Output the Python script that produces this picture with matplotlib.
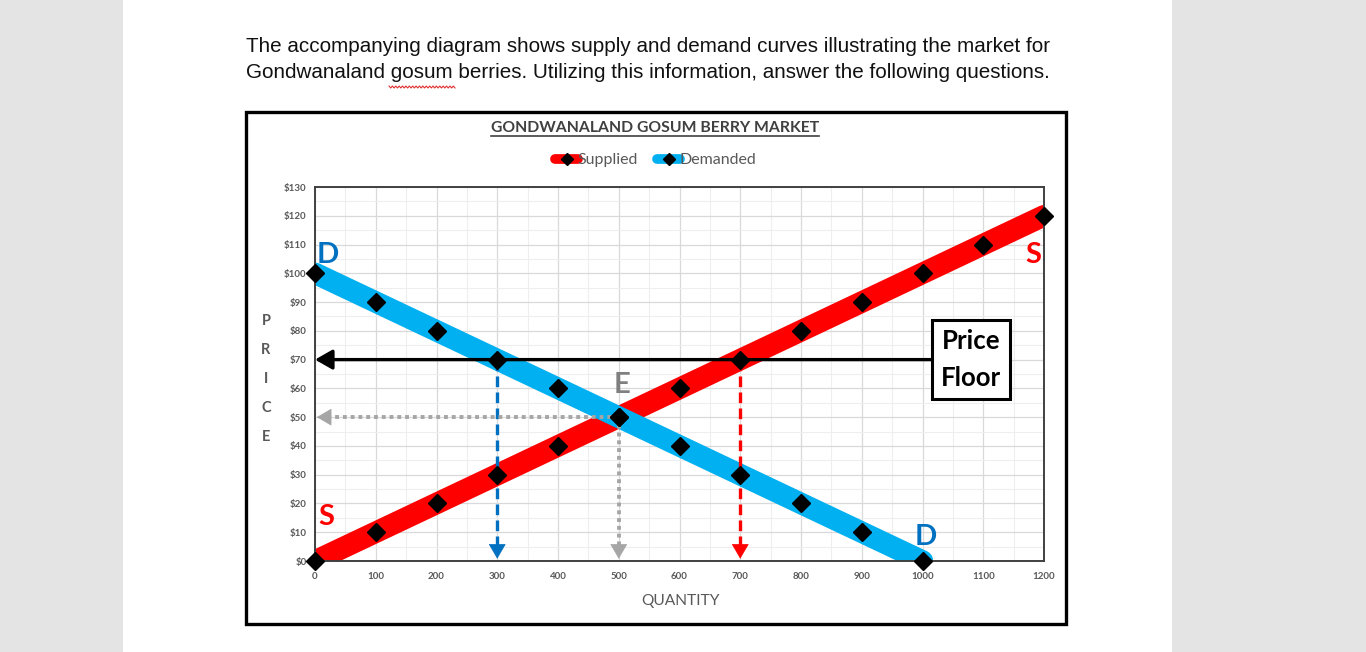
import numpy as np
import matplotlib
matplotlib.use("Agg")
import matplotlib.pyplot as plt
from matplotlib.lines import Line2D
from matplotlib.patches import Rectangle
from matplotlib.ticker import MultipleLocator, FuncFormatter

# ---------------- data ----------------
supply_qty = [0, 100, 200, 300, 400, 500, 600, 700, 800, 900, 1000, 1100, 1200]
supply_price = [0, 10, 20, 30, 40, 50, 60, 70, 80, 90, 100, 110, 120]
demand_qty = [0, 100, 200, 300, 400, 500, 600, 700, 800, 900, 1000]
demand_price = [100, 90, 80, 70, 60, 50, 40, 30, 20, 10, 0]
x_ticks = [0, 100, 200, 300, 400, 500, 600, 700, 800, 900, 1000, 1100, 1200]
y_ticks = [0, 10, 20, 30, 40, 50, 60, 70, 80, 90, 100, 110, 120, 130]
floor_price = 70
qd_at_floor = 300
qs_at_floor = 700
eq_price = 50
eq_qty = 500
floor_box_x = 1080

RED = "#ff0000"
CYAN = "#00b0f0"
BLUE = "#0070c0"
GREY = "#a6a6a6"
DARK = "#595959"
FONT = ["Lato", "DejaVu Sans"]

W, H = 1366, 652
fig = plt.figure(figsize=(W / 100, H / 100), dpi=100)
fig.patch.set_facecolor("#e4e4e4")

def fx(px):
    return px / W

def fy(py):
    return 1 - py / H

# white page
fig.patches.append(Rectangle((fx(123), 0), fx(1172) - fx(123), 1,
                             transform=fig.transFigure, facecolor="white",
                             edgecolor="none", zorder=0))
# chart outer border
fig.patches.append(Rectangle((fx(246), fy(624)), fx(1066) - fx(246), fy(112) - fy(624),
                             transform=fig.transFigure, facecolor="white",
                             edgecolor="black", linewidth=2.4, zorder=1))

# header text
HFONT = ["Liberation Sans", "DejaVu Sans"]
fig.text(fx(246), fy(46), "The accompanying diagram shows supply and demand curves illustrating the market for",
         fontsize=14.9, family=HFONT, color="#111111", ha="left", va="center")
fig.text(fx(246), fy(73), "Gondwanaland gosum berries. Utilizing this information, answer the following questions.",
         fontsize=14.9, family=HFONT, color="#111111", ha="left", va="center")
# spell-check squiggle under "gosum"
zx = np.linspace(fx(389), fx(455), 40)
zy = fy(87) + np.where(np.arange(40) % 2 == 0, 0.0015, -0.0015)
fig.lines.append(Line2D(zx, zy, transform=fig.transFigure, color="#e03030", lw=0.8))

# axes
ax = fig.add_axes([fx(315), fy(561), fx(1044) - fx(315), fy(187) - fy(561)])
ax.set_zorder(2)
ax.set_xlim(0, 1200)
ax.set_ylim(0, 130)
ax.xaxis.set_minor_locator(MultipleLocator(50))
ax.yaxis.set_minor_locator(MultipleLocator(5))
ax.set_xticks(x_ticks)
ax.set_yticks(y_ticks)
ax.yaxis.set_major_formatter(FuncFormatter(lambda v, p: f"${int(v)}"))
ax.grid(True, which="major", color="#d9d9d9", lw=0.9, zorder=0)
ax.grid(True, which="minor", color="#eeeeee", lw=0.8, zorder=0)
ax.set_axisbelow(True)
ax.tick_params(which="both", length=0)
ax.tick_params(axis="y", pad=6, labelsize=7, labelcolor=DARK)
ax.tick_params(axis="x", pad=8, labelsize=7, labelcolor=DARK)
for lab in ax.get_xticklabels() + ax.get_yticklabels():
    lab.set_fontweight("bold")
    lab.set_family(FONT)
for s in ax.spines.values():
    s.set_color("#404040")
    s.set_linewidth(1.4)

# curves
ax.plot(supply_qty, supply_price, color=RED, lw=15.5, solid_capstyle="round", zorder=2)
ax.plot(demand_qty, demand_price, color=CYAN, lw=15.5, solid_capstyle="round", zorder=2)

# dashed guides
ax.plot([qd_at_floor, qd_at_floor], [floor_price, 4], color=BLUE, lw=2.4,
        linestyle=(0, (3.2, 1.6)), zorder=3)
ax.plot([qs_at_floor, qs_at_floor], [floor_price, 4], color=RED, lw=2.4,
        linestyle=(0, (3.2, 1.6)), zorder=3)
ax.plot([eq_qty, 12], [eq_price, eq_price], color=GREY, lw=2.8,
        linestyle=(0, (1, 1)), zorder=3)
ax.plot([eq_qty, eq_qty], [eq_price, 4], color=GREY, lw=2.8,
        linestyle=(0, (1, 1)), zorder=3)

def head(x0, y0, x1, y1, color):
    ax.annotate("", xy=(x1, y1), xytext=(x0, y0),
                arrowprops=dict(arrowstyle="-|>,head_length=0.65,head_width=0.38",
                                color=color, lw=0.5, shrinkA=0, shrinkB=0,
                                mutation_scale=15),
                zorder=4, annotation_clip=False)

head(qd_at_floor, 6, qd_at_floor, 0.8, BLUE)
head(qs_at_floor, 6, qs_at_floor, 0.8, RED)
head(eq_qty, 6, eq_qty, 0.8, GREY)
head(25, eq_price, 3, eq_price, GREY)

# price floor line with arrow
ax.annotate("", xy=(0, floor_price), xytext=(floor_box_x, floor_price),
            arrowprops=dict(arrowstyle="-|>,head_length=0.7,head_width=0.4",
                            color="black", lw=2.4, shrinkA=0, shrinkB=0,
                            mutation_scale=15),
            zorder=4, annotation_clip=False)
ax.text(floor_box_x, floor_price, "Price\nFloor", fontsize=18.5, fontweight="bold",
        family=FONT, ha="center", va="center", linespacing=1.65, zorder=6,
        bbox=dict(boxstyle="square,pad=0.35", fc="white", ec="black", lw=2.2))

# markers
ax.plot(supply_qty, supply_price, linestyle="none", marker="D", ms=9,
        color="black", clip_on=False, zorder=5)
ax.plot(demand_qty, demand_price, linestyle="none", marker="D", ms=9,
        color="black", clip_on=False, zorder=5)

# curve labels
ax.text(3, 106.5, "D", color=BLUE, fontsize=21, fontweight="bold", family=FONT,
        ha="left", va="center", zorder=6)
ax.text(1006, 8.3, "D", color=BLUE, fontsize=21, fontweight="bold", family=FONT,
        ha="center", va="center", zorder=6)
ax.text(18, 15.3, "S", color=RED, fontsize=21, fontweight="bold", family=FONT,
        ha="center", va="center", zorder=6)
ax.text(1182, 106.5, "S", color=RED, fontsize=21, fontweight="bold", family=FONT,
        ha="center", va="center", zorder=6)
ax.text(505, 61.2, "E", color="#7f7f7f", fontsize=21, fontweight="bold", family=FONT,
        ha="center", va="center", zorder=6)

# axis titles
fig.text(fx(680), fy(601), "QUANTITY", fontsize=11.2, color=DARK, family=FONT,
         ha="center", va="center")
for i, ch in enumerate("PRICE"):
    fig.text(fx(266), fy(321 + i * 29), ch, fontsize=10.5, color=DARK, family=FONT,
             fontweight="bold", ha="center", va="center")

# chart title (underlined)
title = fig.text(fx(655), fy(128), "GONDWANALAND GOSUM BERRY MARKET", fontsize=11.3,
                 fontweight="bold", color="#404040", family=FONT, ha="center", va="center")

# legend
handles = [Line2D([], [], color=RED, lw=7, marker="D", ms=6, mfc="black", mec="black",
                  solid_capstyle="round"),
           Line2D([], [], color=CYAN, lw=7, marker="D", ms=6, mfc="black", mec="black",
                  solid_capstyle="round")]
leg = fig.legend(handles, ["Supplied", "Demanded"], loc="center",
                 bbox_to_anchor=(fx(656), fy(160)), ncol=2, frameon=False,
                 handlelength=1.4, handletextpad=0.0, columnspacing=1.2,
                 prop=dict(family=FONT, size=11.5))
for t in leg.get_texts():
    t.set_color(DARK)

fig.canvas.draw()
bb = title.get_window_extent()
inv = fig.transFigure.inverted()
(x0, y0), (x1, y1) = inv.transform([(bb.x0, bb.y0), (bb.x1, bb.y1)])
fig.lines.append(Line2D([x0, x1], [y0 - 0.002, y0 - 0.002], transform=fig.transFigure,
                        color="#404040", lw=1.2))

fig.savefig("out.png", dpi=100, facecolor=fig.get_facecolor())
